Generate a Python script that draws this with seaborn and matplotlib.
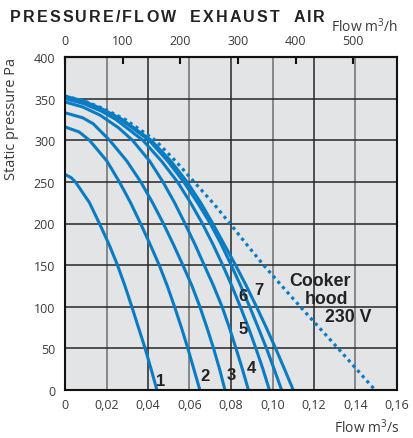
import matplotlib
matplotlib.use("Agg")
import matplotlib.pyplot as plt
import pandas as pd
import seaborn as sns

# Fan curves: static pressure (Pa) against air flow (m3/s)
CURVE_NAMES = ["1", "2", "3", "4", "5", "6", "7"]

P1 = [259, 255, 250, 225, 200, 175, 150, 125, 100, 75, 50, 25, 0]
Q1 = [0, 0.0030, 0.0050, 0.0118, 0.0166, 0.0212, 0.0253, 0.0289, 0.0322, 0.0354, 0.0386, 0.0415, 0.0443]

P2 = [316, 310, 300, 275, 250, 225, 200, 175, 150, 125, 100, 75, 50, 25, 0]
Q2 = [0, 0.0068, 0.0118, 0.0202, 0.0262, 0.0316, 0.0364, 0.0410, 0.0454, 0.0493, 0.0528, 0.0561, 0.0592, 0.0621, 0.0650]

P3 = [333, 327, 320, 300, 275, 250, 225, 200, 175, 150, 125, 100, 75, 50, 25, 0]
Q3 = [0, 0.0085, 0.0135, 0.0215, 0.0298, 0.0365, 0.0422, 0.0474, 0.0522, 0.0568, 0.0612, 0.0650, 0.0684, 0.0716, 0.0745, 0.0771]

P4 = [346, 340, 330, 315, 300, 275, 250, 225, 200, 175, 150, 125, 100, 75, 50, 25, 0]
Q4 = [0, 0.0085, 0.0170, 0.0258, 0.0325, 0.0408, 0.0472, 0.0528, 0.0578, 0.0626, 0.0671, 0.0716, 0.0757, 0.0792, 0.0824, 0.0855, 0.0884]

P5 = [350, 344, 335, 325, 300, 275, 250, 225, 200, 175, 150, 125, 100, 75, 50, 25, 0]
Q5 = [0, 0.0090, 0.0175, 0.0245, 0.0375, 0.0465, 0.0542, 0.0605, 0.0662, 0.0713, 0.0760, 0.0804, 0.0845, 0.0884, 0.0920, 0.0954, 0.0985]

P6 = [352, 346, 337, 325, 300, 275, 250, 225, 200, 175, 150, 125, 100, 75, 50, 25, 0]
Q6 = [0, 0.0092, 0.0178, 0.0268, 0.0405, 0.0495, 0.0572, 0.0639, 0.0700, 0.0753, 0.0801, 0.0847, 0.0890, 0.0931, 0.0971, 0.1008, 0.1044]

P7 = [353, 347, 338, 325, 300, 275, 250, 225, 200, 175, 150, 125, 100, 75, 50, 25, 0]
Q7 = [0, 0.0090, 0.0175, 0.0275, 0.0415, 0.0510, 0.0588, 0.0654, 0.0712, 0.0767, 0.0822, 0.0874, 0.0923, 0.0970, 0.1015, 0.1058, 0.1100]

# Cooker hood, 230 V (dotted)
HOOD_P = [353, 347, 338, 325, 300, 275, 250, 225, 200, 175, 150, 125, 100, 75, 50, 25, 0]
HOOD_Q = [0, 0.0095, 0.0185, 0.0290, 0.0435, 0.0533, 0.0622, 0.0712, 0.0795, 0.0875, 0.0957, 0.1045, 0.1134, 0.1225, 0.1316, 0.1405, 0.1494]

X_TICKS = [0, 0.02, 0.04, 0.06, 0.08, 0.10, 0.12, 0.14, 0.16]
X_TICK_LABELS = ["0", "0,02", "0,04", "0,06", "0,08", "0,10", "0,12", "0,14", "0,16"]
Y_TICKS = [0, 50, 100, 150, 200, 250, 300, 350, 400]
TOP_TICKS = [0, 100, 200, 300, 400, 500]

BLUE = "#0a7cc4"
INK = "#222222"
TICK_INK = "#3a3a3a"

sns.set_style("white")
plt.rcParams["font.family"] = ["Open Sans", "DejaVu Sans"]
plt.rcParams["mathtext.fontset"] = "custom"
plt.rcParams["mathtext.rm"] = "Open Sans"

W, H = 413, 439
fig = plt.figure(figsize=(W / 100, H / 100), dpi=100)
ax = fig.add_axes([65 / W, 1 - 391 / H, 332 / W, 333 / H])
ax.set_facecolor("#e3e4e6")

frames = []
for name, p, q in zip(CURVE_NAMES, [P1, P2, P3, P4, P5, P6, P7], [Q1, Q2, Q3, Q4, Q5, Q6, Q7]):
    frames.append(pd.DataFrame({"curve": name, "flow": q, "pressure": p}))
fans = pd.concat(frames, ignore_index=True)
hood = pd.DataFrame({"flow": HOOD_Q, "pressure": HOOD_P})

sns.lineplot(data=fans, x="flow", y="pressure", units="curve", estimator=None,
             sort=False, color=BLUE, linewidth=2.2, ax=ax, legend=False, zorder=3)
sns.lineplot(data=hood, x="flow", y="pressure", estimator=None, sort=False,
             color=BLUE, linewidth=2.3, linestyle=(0, (1, 1.2)), ax=ax,
             legend=False, zorder=3)

ax.set_xlim(0, 0.16)
ax.set_ylim(0, 400)
ax.set_xlabel("")
ax.set_ylabel("")

# grid: every other vertical line lighter
for i, x in enumerate(X_TICKS):
    ax.axvline(x, color="#6e6e6e" if i % 2 else "#262626", lw=1.1, zorder=1)
for y in Y_TICKS:
    ax.axhline(y, color="#262626", lw=1.1, zorder=1)

ax.set_xticks(X_TICKS, X_TICK_LABELS)
ax.set_yticks(Y_TICKS)
ax.tick_params(axis="x", length=0, pad=6, labelsize=9, labelcolor=TICK_INK)
ax.tick_params(axis="y", length=0, pad=7, labelsize=9, labelcolor=TICK_INK)
for s in ax.spines.values():
    s.set_color("#111111")
    s.set_linewidth(1.5)
    s.set_zorder(4)

top = ax.secondary_xaxis("top", functions=(lambda q: q * 3600, lambda h: h / 3600))
top.set_xticks(TOP_TICKS)
top.tick_params(direction="in", length=5, width=1.5, color="#111111", pad=7,
                labelsize=9, labelcolor=TICK_INK)
top.spines["top"].set_linewidth(1.5)

# curve numbers
label_style = dict(fontsize=12, fontweight="bold", color=INK, ha="center",
                   va="center", family=["Liberation Sans", "DejaVu Sans"], zorder=5)
for name, (x, y) in zip(CURVE_NAMES, [(0.0463, 12), (0.0675, 17), (0.0803, 19), (0.0900, 27),
                                      (0.0858, 74), (0.0858, 113), (0.0935, 121)]):
    ax.text(x, y, name, **label_style)
hood_style = dict(label_style, fontsize=12.8)
ax.text(0.1229, 131, "Cooker", **hood_style)
ax.text(0.1261, 110, "hood", **hood_style)
ax.text(0.1364, 88, "230 V", **hood_style)

fig.text(12 / W, 1 - 58 / H, "Static pressure Pa", rotation=90, ha="center", va="top",
         fontsize=10.5, color=TICK_INK)
fig.text(398 / W, 1 - 32 / H, "Flow m$^{3}$/h", ha="right", va="baseline",
         fontsize=10, color=TICK_INK)
fig.text(399 / W, 1 - 433 / H, "Flow m$^{3}$/s", ha="right", va="baseline",
         fontsize=10, color=TICK_INK)

# letter-spaced title
renderer = fig.canvas.get_renderer()
words = ["PRESSURE/FLOW", "EXHAUST", "AIR"]
title_kw = dict(fontsize=11.5, fontweight="bold", color=INK, va="baseline", ha="left",
                family=["Liberation Sans", "DejaVu Sans"])
x0, x1, word_gap = 10.0, 325.0, 14.0
glyphs = []
for w in words:
    row = []
    for ch in w:
        t = fig.text(0, 1 - 22 / H, ch, **title_kw)
        row.append((t, t.get_window_extent(renderer=renderer).width))
    glyphs.append(row)
n_gaps = sum(len(r) - 1 for r in glyphs)
ink = sum(wd for r in glyphs for _, wd in r)
gap = (x1 - x0 - ink - word_gap * (len(words) - 1)) / n_gaps
x = x0
for row in glyphs:
    for ci, (t, wd) in enumerate(row):
        t.set_x(x / W)
        x += wd + (gap if ci < len(row) - 1 else 0)
    x += word_gap

fig.savefig("out.png", dpi=100)
